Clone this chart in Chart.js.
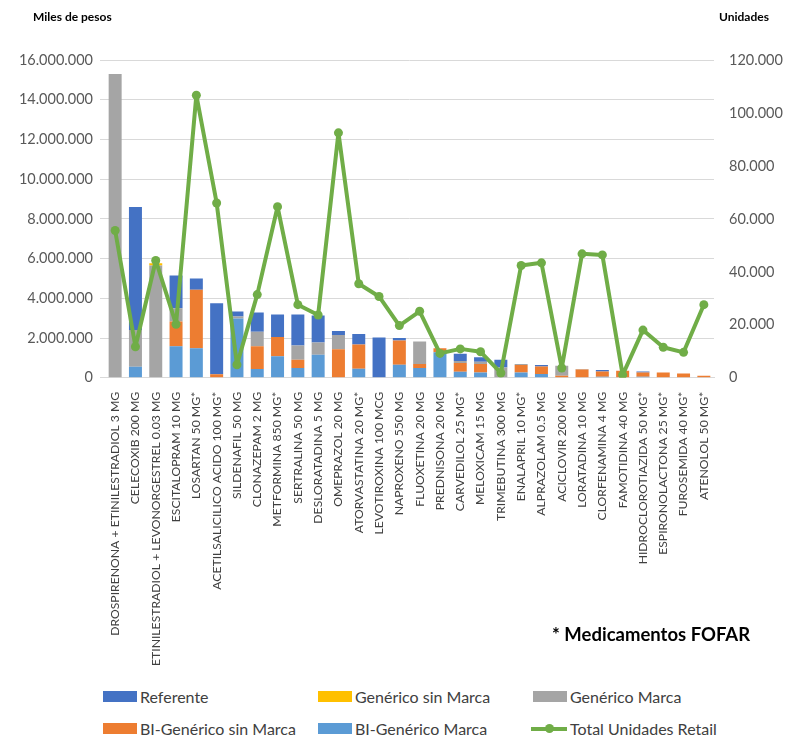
<!DOCTYPE html>
<html>
<head>
<meta charset="utf-8">
<script src="https://cdn.jsdelivr.net/npm/chart.js@4.4.0/dist/chart.umd.min.js"></script>
<style>
  body { margin: 0; background: #fff; font-family: Lato, "Open Sans", sans-serif; }
  #wrap { position: relative; width: 785px; height: 736px; }
  #chartBox { position: absolute; left: 0; top: 0; width: 785px; height: 678px; }
  .axisTitle { position: absolute; top: 9px; font-size: 12px; font-weight: bold; color: #000; }
  #nota { position: absolute; left: 552px; top: 623px; font-size: 18.5px; font-weight: bold; color: #000; }
  .leg { position: absolute; font-size: 16px; color: #404040; display: flex; align-items: center; white-space: nowrap; }
  .leg .box { width: 34px; height: 11px; margin-right: 3px; }
  .leg .ln { width: 36px; height: 4px; background: #70ad47; position: relative; margin-right: 3px; }
  .leg .ln::after { content: ''; position: absolute; left: 14px; top: -3px; width: 9px; height: 9px; border-radius: 50%; background: #70ad47; }
</style>
</head>
<body>
<div id="wrap">
  <div id="chartBox"><canvas id="grafico" width="785" height="678"></canvas></div>
  <div class="axisTitle" style="left:33px">Miles de pesos</div>
  <div class="axisTitle" style="left:719px">Unidades</div>
  <div id="nota">* Medicamentos FOFAR</div>
  <div id="leyenda"></div>
</div>
<script>
'use strict';
let categorias = ['DROSPIRENONA + ETINILESTRADIOL 3 MG', 'CELECOXIB 200 MG', 'ETINILESTRADIOL + LEVONORGESTREL 0.03 MG',
  'ESCITALOPRAM 10 MG', 'LOSARTAN 50 MG*', 'ACETILSALICILICO ACIDO 100 MG*', 'SILDENAFIL 50 MG', 'CLONAZEPAM 2 MG',
  'METFORMINA 850 MG*', 'SERTRALINA 50 MG', 'DESLORATADINA 5 MG', 'OMEPRAZOL 20 MG', 'ATORVASTATINA 20 MG*',
  'LEVOTIROXINA 100 MCG', 'NAPROXENO 550 MG', 'FLUOXETINA 20 MG', 'PREDNISONA 20 MG', 'CARVEDILOL 25 MG*',
  'MELOXICAM 15 MG', 'TRIMEBUTINA 300 MG', 'ENALAPRIL 10 MG*', 'ALPRAZOLAM 0.5 MG', 'ACICLOVIR 200 MG',
  'LORATADINA 10 MG', 'CLORFENAMINA 4 MG', 'FAMOTIDINA 40 MG', 'HIDROCLOROTIAZIDA 50 MG*', 'ESPIRONOLACTONA 25 MG*',
  'FUROSEMIDA 40 MG*', 'ATENOLOL 50 MG*'];

// miles de pesos por segmento
let referente = [0, 6200000, 0, 1650000, 570000, 3570000, 250000, 970000, 1130000, 1560000, 1350000, 210000, 520000,
  2030000, 130000, 0, 0, 370000, 220000, 390000, 0, 80000, 0, 0, 70000, 0, 50000, 0, 0, 0];
let genericoSinMarca = [0, 0, 120000, 0, 0, 0, 0, 0, 0, 0, 0, 0, 0, 0, 0, 0, 0, 0, 0, 0, 0, 0, 0, 0, 0, 0, 0, 0, 0, 0];
let genericoMarca = [15300000, 1850000, 5650000, 670000, 0, 0, 100000, 730000, 0, 710000, 620000, 720000, 0, 0, 0,
  1140000, 0, 100000, 120000, 520000, 50000, 0, 500000, 30000, 0, 0, 0, 0, 0, 0];
let biSinMarca = [0, 0, 0, 1250000, 2950000, 180000, 0, 1140000, 970000, 420000, 0, 1430000, 1230000, 0, 1210000,
  200000, 200000, 440000, 420000, 0, 370000, 370000, 100000, 410000, 270000, 350000, 220000, 270000, 220000, 100000];
let biMarca = [0, 550000, 0, 1580000, 1480000, 0, 2980000, 440000, 1080000, 490000, 1160000, 0, 450000, 0, 660000,
  490000, 1280000, 300000, 270000, 0, 270000, 190000, 0, 0, 50000, 0, 50000, 0, 0, 0];

// unidades (eje derecho)
let unidades = [55600, 11700, 44300, 20200, 106700, 66000, 4900, 31400, 64600, 27600, 23700, 92500, 35500, 30700,
  19700, 25100, 9200, 10900, 9800, 1800, 42400, 43400, 3700, 46800, 46400, 1100, 18000, 11500, 9600, 27600];

let ticksPesos = [0, 2000000, 4000000, 6000000, 8000000, 10000000, 12000000, 14000000, 16000000];
let ticksUnidades = [0, 20000, 40000, 60000, 80000, 100000, 120000];

function puntos(n) {
  return String(n).replace(/\B(?=(\d{3})+(?!\d))/g, '.');
}

let verde = '#70ad47';

function barra(label, data, color) {
  return {
    type: 'bar', label: label, data: data, backgroundColor: color,
    yAxisID: 'y', stack: 'a', order: 2,
    barPercentage: 0.64, categoryPercentage: 1
  };
}

let ctx = document.getElementById('grafico').getContext('2d');
let grafico = new Chart(ctx, {
  data: {
    labels: categorias,
    datasets: [
      {
        type: 'line', label: 'Total Unidades Retail', data: unidades, yAxisID: 'y1', order: 1,
        borderColor: verde, backgroundColor: verde, borderWidth: 4, pointRadius: 4.5,
        borderJoinStyle: 'round', borderCapStyle: 'round',
        pointBackgroundColor: verde, pointBorderWidth: 0, tension: 0
      },
      barra('BI-Genérico Marca', biMarca, '#5b9bd5'),
      barra('BI-Genérico sin Marca', biSinMarca, '#ed7d31'),
      barra('Genérico Marca', genericoMarca, '#a5a5a5'),
      barra('Genérico sin Marca', genericoSinMarca, '#ffc000'),
      barra('Referente', referente, '#4472c4')
    ]
  },
  options: {
    responsive: false,
    animation: false,
    layout: { padding: { left: 0, right: 0, top: 60, bottom: 6 } },
    plugins: { legend: { display: false }, tooltip: { enabled: false } },
    scales: {
      x: {
        stacked: true,
        grid: { display: false },
        border: { color: '#d9d9d9' },
        ticks: {
          autoSkip: false, maxRotation: 90, minRotation: 90, padding: 6,
          color: '#404040', font: { family: 'Lato', size: 12.2 }
        }
      },
      y: {
        stacked: true, position: 'left', min: 0, max: 16000000,
        afterBuildTicks: function (ax) { ax.ticks = ticksPesos.map(function (v) { return { value: v }; }); },
        afterFit: function (ax) { ax.width = 105; },
        grid: { color: '#d9d9d9', tickLength: 5 },
        border: { display: false },
        ticks: {
          color: '#595959', font: { family: 'Lato', size: 14.5 }, padding: 7,
          callback: function (v) { return puntos(v); }
        }
      },
      y1: {
        position: 'right', min: 0, max: 120000,
        afterBuildTicks: function (ax) { ax.ticks = ticksUnidades.map(function (v) { return { value: v }; }); },
        afterFit: function (ax) { ax.width = 71; },
        grid: { display: false },
        border: { display: false },
        ticks: {
          color: '#595959', font: { family: 'Lato', size: 14.5 }, padding: 7,
          callback: function (v) { return puntos(v); }
        }
      }
    }
  }
});

// leyenda en dos filas y tres columnas
let itemsLeyenda = [
  { t: 'Referente', c: '#4472c4', x: 103, y: 687 },
  { t: 'Genérico sin Marca', c: '#ffc000', x: 318, y: 687 },
  { t: 'Genérico Marca', c: '#a5a5a5', x: 533, y: 687 },
  { t: 'BI-Genérico sin Marca', c: '#ed7d31', x: 103, y: 719 },
  { t: 'BI-Genérico Marca', c: '#5b9bd5', x: 318, y: 719 },
  { t: 'Total Unidades Retail', c: verde, x: 531, y: 719, linea: true }
];
let leyenda = document.getElementById('leyenda');
for (let i = 0; i < itemsLeyenda.length; i++) {
  let it = itemsLeyenda[i];
  let div = document.createElement('div');
  div.className = 'leg';
  div.style.left = it.x + 'px';
  div.style.top = it.y + 'px';
  let marca = document.createElement('span');
  if (it.linea) {
    marca.className = 'ln';
  } else {
    marca.className = 'box';
    marca.style.background = it.c;
  }
  div.appendChild(marca);
  let txt = document.createElement('span');
  txt.textContent = it.t;
  div.appendChild(txt);
  leyenda.appendChild(div);
}
</script>
</body>
</html>
